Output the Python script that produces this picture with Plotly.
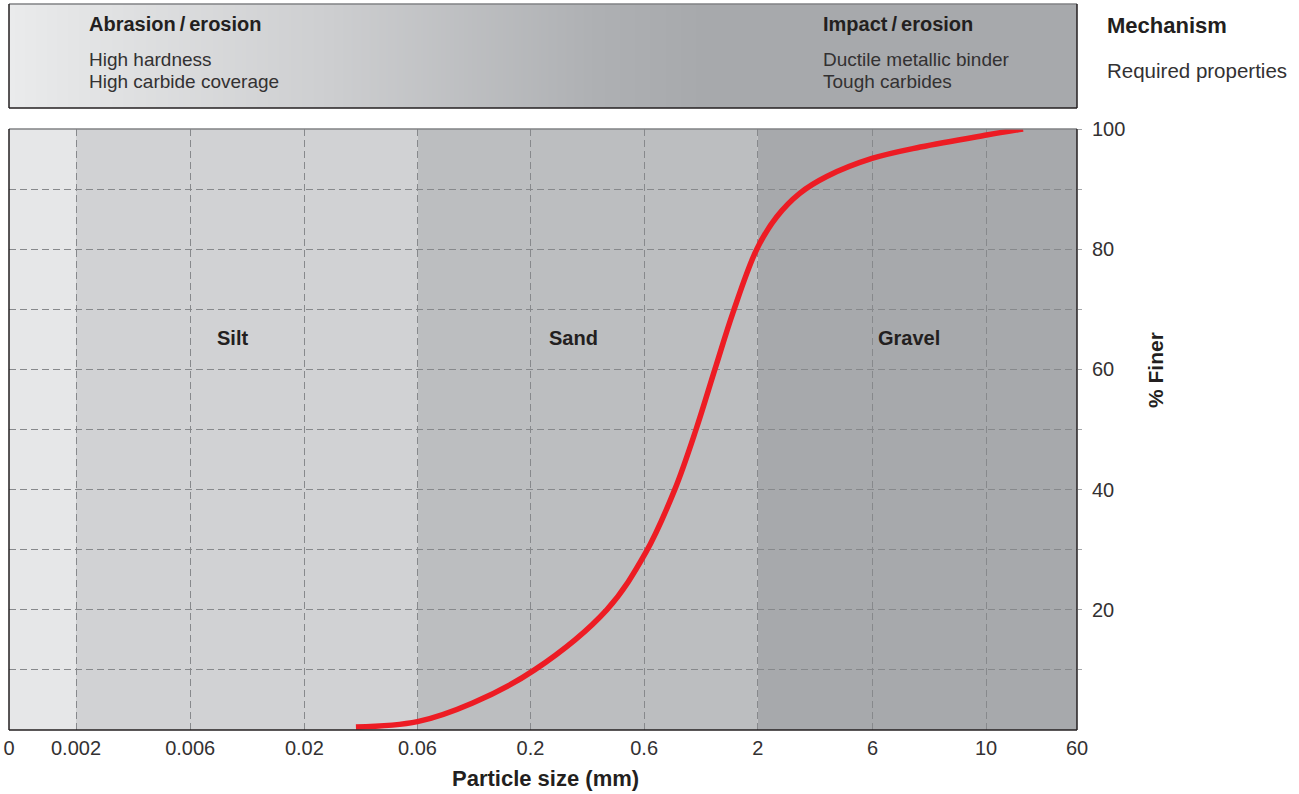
import numpy as np
import plotly.graph_objects as go

# ---------------- data ----------------
tick_labels = ["0", "0.002", "0.006", "0.02", "0.06", "0.2", "0.6", "2", "6", "10", "60"]
tick_mm = [0, 0.002, 0.006, 0.02, 0.06, 0.2, 0.6, 2, 6, 10, 60]
# axis position of each tick (the chart's piecewise, evenly spaced scale)
tick_pos = [0, 0.59, 1.595, 2.6, 3.595, 4.59, 5.59, 6.59, 7.6, 8.6, 9.4]

particle_mm = [0.033, 0.06, 0.108, 0.208, 0.418, 0.61, 0.83, 1.04, 1.27,
               1.54, 1.98, 2.40, 2.99, 3.87, 5.97, 7.44, 10.1, 20.7]
pct_finer = [0.5, 1.4, 4.5, 10, 20, 29.5, 40, 50, 60,
             69.5, 80, 85.4, 89.3, 92.1, 95.1, 97, 99, 100]

zones = ["", "Silt", "Sand", "Gravel"]
zone_bounds_mm = [0, 0.002, 0.06, 2, 60]
zone_colors = ["#e6e7e8", "#d1d2d4", "#bcbec0", "#a7a9ac"]

y_ticks = [10, 20, 30, 40, 50, 60, 70, 80, 90, 100]
y_labels = ["", "20", "", "40", "", "60", "", "80", "", "100"]

# --------------- scale ----------------
log_ticks = np.log10(tick_mm[1:])
pos_ticks = np.array(tick_pos[1:])


def to_pos(mm):
    mm = np.asarray(mm, dtype=float)
    out = np.interp(np.log10(np.where(mm > 0, mm, 1e-9)), log_ticks, pos_ticks)
    return np.where(mm > 0, out, tick_pos[0])


x_curve = to_pos(particle_mm)

# --------------- layout geometry (pixels) ----------------
W, H = 1299, 794
L, R, T, B = 9, 222, 4, 64
plot_w = W - L - R
plot_h = H - T - B
main_top_px = 129
box_bottom_px = 108


def px_x(px):
    return (px - L) / plot_w


def px_y(py):
    return (H - B - py) / plot_h


main_domain = [0, px_y(main_top_px)]
box_domain = [px_y(box_bottom_px), 1]

DARK = "#231f20"
TXT = "#333132"
GRID = "#87898c"
FONT = "Liberation Sans, Arial, Helvetica, sans-serif"

fig = go.Figure()

# gradient for the mechanism box
gx = np.linspace(0, tick_pos[-1], 300)
fig.add_trace(go.Heatmap(
    x=gx, y=[0, 1], z=[gx, gx], xaxis="x2", yaxis="y2",
    colorscale=[[0, "#eaebec"], [0.08, "#e2e3e4"], [0.3, "#cdced0"],
                [0.55, "#aeb0b3"], [0.65, "#a7a9ac"], [1, "#a7a9ac"]],
    showscale=False, zsmooth="best", hoverinfo="skip"))

fig.add_trace(go.Scatter(
    x=x_curve, y=pct_finer, mode="lines",
    line=dict(color="#ed1c24", width=5.5, shape="spline", smoothing=1.0),
    hoverinfo="skip", showlegend=False))

shapes = []
for i in range(len(zone_colors)):
    x0 = float(to_pos([zone_bounds_mm[i]])[0])
    x1 = float(to_pos([zone_bounds_mm[i + 1]])[0])
    shapes.append(dict(type="rect", xref="x", yref="y", x0=x0, x1=x1, y0=0, y1=100,
                       fillcolor=zone_colors[i], line=dict(width=0), layer="below"))


def frame(y0, y1, top_color):
    return [
        dict(type="line", xref="paper", yref="paper", x0=0, x1=1, y0=y1, y1=y1,
             line=dict(color=top_color, width=1.5)),
        dict(type="line", xref="paper", yref="paper", x0=0, x1=1, y0=y0, y1=y0,
             line=dict(color=DARK, width=1.5)),
        dict(type="line", xref="paper", yref="paper", x0=0, x1=0, y0=y0, y1=y1,
             line=dict(color=DARK, width=1.5)),
        dict(type="line", xref="paper", yref="paper", x0=1, x1=1, y0=y0, y1=y1,
             line=dict(color=DARK, width=1.5)),
    ]


shapes += frame(main_domain[0], main_domain[1], "#808285")
shapes += frame(box_domain[0], box_domain[1], "#808285")

ann = []


def text(px, py, s, bold=False, size=19, xanchor="left", color=TXT, **kw):
    ann.append(dict(xref="paper", yref="paper", x=px_x(px), y=px_y(py),
                    text=f"<b>{s}</b>" if bold else s, showarrow=False,
                    xanchor=xanchor, yanchor="middle",
                    font=dict(family=FONT, size=size, color=color), **kw))


text(87, 24, "Abrasion\u2009/\u2009erosion", bold=True, size=20, color=DARK)
text(87, 59, "High hardness")
text(87, 82, "High carbide coverage")
text(821, 24, "Impact\u2009/\u2009erosion", bold=True, size=20, color=DARK)
text(821, 59, "Ductile metallic binder")
text(821, 82, "Tough carbides")
text(1105, 26, "Mechanism", bold=True, size=22, color=DARK)
text(1105, 70, "Required properties", size=20.5)

zone_label_px = [None, 232, 573, 909]
for name, px in zip(zones, zone_label_px):
    if name:
        text(px, 338, name, bold=True, size=20, xanchor="center", color=DARK)

text(545, 778, "Particle size (mm)", bold=True, size=22, xanchor="center", color=DARK)
ann.append(dict(xref="paper", yref="paper", x=px_x(1155), y=px_y(370), text="<b>% Finer</b>",
                showarrow=False, textangle=-90, xanchor="center", yanchor="middle",
                font=dict(family=FONT, size=21, color=DARK)))

fig.update_layout(
    width=W, height=H,
    margin=dict(l=L, r=R, t=T, b=B, pad=0, autoexpand=False),
    paper_bgcolor="white", plot_bgcolor="white",
    showlegend=False,
    font=dict(family=FONT, size=19, color=TXT),
    shapes=shapes, annotations=ann,
    xaxis=dict(domain=[0, 1], range=[tick_pos[0], tick_pos[-1]], tickmode="array",
               tickvals=tick_pos, ticktext=tick_labels, showgrid=True,
               gridcolor=GRID, griddash="7px,4px", gridwidth=1,
               ticks="", showline=False, zeroline=False, anchor="y", automargin=False,
               tickfont=dict(family=FONT, size=20, color=TXT), ticklabelstandoff=4),
    yaxis=dict(domain=main_domain, range=[0, 100], side="right", tickmode="array",
               tickvals=y_ticks, ticktext=y_labels, showgrid=True,
               gridcolor=GRID, griddash="7px,4px", gridwidth=1,
               ticks="outside", ticklen=4, tickcolor="#a7a9ac", tickwidth=1,
               showline=False, zeroline=False, anchor="x", automargin=False,
               tickfont=dict(family=FONT, size=20, color=TXT), ticklabelstandoff=6),
    xaxis2=dict(domain=[0, 1], range=[tick_pos[0], tick_pos[-1]], visible=False,
                anchor="y2", fixedrange=True, automargin=False),
    yaxis2=dict(domain=box_domain, range=[0, 1], visible=False, anchor="x2",
                fixedrange=True, automargin=False),
)

fig.write_html(
    "out.html",
    config={"displayModeBar": False},
    post_script=("document.body.style.margin='0';document.body.style.padding='0';"
                 "var d=document.getElementById('{plot_id}');"
                 "d.style.position='absolute';d.style.left='0px';d.style.top='0px';"),
)
